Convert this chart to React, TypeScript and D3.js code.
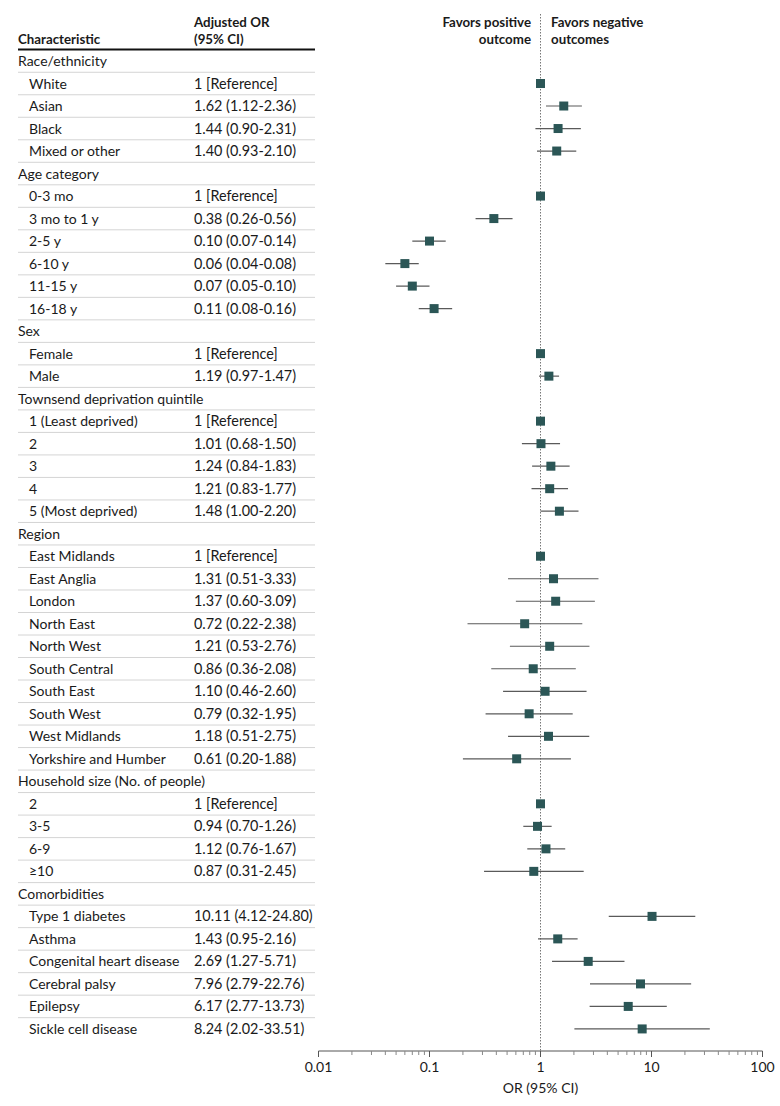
import React from "react";
import * as d3 from "d3";

type Row = { label: string; group: boolean; or?: number; lo?: number; hi?: number; text?: string };

const categories: string[] = [
  "Race/ethnicity", "Age category", "Sex", "Townsend deprivation quintile", "Region",
  "Household size (No. of people)", "Comorbidities",
];

const itemLabels: string[][] = [
  ["White", "Asian", "Black", "Mixed or other"],
  ["0-3 mo", "3 mo to 1 y", "2-5 y", "6-10 y", "11-15 y", "16-18 y"],
  ["Female", "Male"],
  ["1 (Least deprived)", "2", "3", "4", "5 (Most deprived)"],
  ["East Midlands", "East Anglia", "London", "North East", "North West", "South Central", "South East", "South West", "West Midlands", "Yorkshire and Humber"],
  ["2", "3-5", "6-9", "≥10"],
  ["Type 1 diabetes", "Asthma", "Congenital heart disease", "Cerebral palsy", "Epilepsy", "Sickle cell disease"],
];

const orValues: number[][] = [
  [1, 1.62, 1.44, 1.40],
  [1, 0.38, 0.10, 0.06, 0.07, 0.11],
  [1, 1.19],
  [1, 1.01, 1.24, 1.21, 1.48],
  [1, 1.31, 1.37, 0.72, 1.21, 0.86, 1.10, 0.79, 1.18, 0.61],
  [1, 0.94, 1.12, 0.87],
  [10.11, 1.43, 2.69, 7.96, 6.17, 8.24],
];

const ciLow: (number | null)[][] = [
  [null, 1.12, 0.90, 0.93],
  [null, 0.26, 0.07, 0.04, 0.05, 0.08],
  [null, 0.97],
  [null, 0.68, 0.84, 0.83, 1.00],
  [null, 0.51, 0.60, 0.22, 0.53, 0.36, 0.46, 0.32, 0.51, 0.20],
  [null, 0.70, 0.76, 0.31],
  [4.12, 0.95, 1.27, 2.79, 2.77, 2.02],
];

const ciHigh: (number | null)[][] = [
  [null, 2.36, 2.31, 2.10],
  [null, 0.56, 0.14, 0.08, 0.10, 0.16],
  [null, 1.47],
  [null, 1.50, 1.83, 1.77, 2.20],
  [null, 3.33, 3.09, 2.38, 2.76, 2.08, 2.60, 1.95, 2.75, 1.88],
  [null, 1.26, 1.67, 2.45],
  [24.80, 2.16, 5.71, 22.76, 13.73, 33.51],
];

const axisTicks: number[] = [0.01, 0.1, 1, 10, 100];
const axisTickLabels: string[] = ["0.01", "0.1", "1", "10", "100"];

const FONT = "Lato, 'Open Sans', sans-serif";
const W = 780;
const H = 1106;
const ROW0 = 61;
const ROWH = 22.51;
const MARK = "#2b5656";

function fmt(v: number) {
  return v.toFixed(2);
}

export default function App() {
  const rows: Row[] = [];
  categories.forEach((c, ci) => {
    rows.push({ label: c, group: true });
    itemLabels[ci].forEach((l, i) => {
      const or = orValues[ci][i];
      const lo = ciLow[ci][i];
      const hi = ciHigh[ci][i];
      const text = lo == null ? "1 [Reference]" : `${fmt(or)} (${fmt(lo)}-${fmt(hi as number)})`;
      rows.push({ label: l, group: false, or, lo: lo ?? undefined, hi: hi ?? undefined, text });
    });
  });

  const x = d3.scaleLog().domain([0.01, 100]).range([318.5, 762.5]);
  const y = (i: number) => ROW0 + i * ROWH;
  const axisY = 1051;
  const minor: number[] = [];
  for (let d = 0.01; d < 100; d *= 10) {
    for (let k = 2; k <= 9; k++) minor.push(+(d * k).toPrecision(3));
  }

  return (
    <svg width={W} height={H} style={{ position: "absolute", left: 0, top: 0, background: "#fff" }}>
      <g fontFamily={FONT} fill="#1a1a1a" fontSize={14}>
        {/* header */}
        <g fontSize={13.3} fontWeight="bold">
          <text x={18} y={44}>Characteristic</text>
          <text x={194} y={27}>Adjusted OR</text>
          <text x={194} y={44}>(95% CI)</text>
          <text x={531} y={27} textAnchor="end">Favors positive</text>
          <text x={531} y={44} textAnchor="end">outcome</text>
          <text x={551} y={27}>Favors negative</text>
          <text x={551} y={44}>outcomes</text>
        </g>
        <line x1={18} x2={315} y1={49.5} y2={49.5} stroke="#111" strokeWidth={1.8} />

        {/* row separators */}
        {rows.slice(0, -1).map((_, i) => (
          <line key={"s" + i} x1={18} x2={315} y1={y(i) + ROWH / 2} y2={y(i) + ROWH / 2} stroke="#d4d4d4" strokeWidth={1} />
        ))}

        {/* reference line */}
        <line x1={x(1)} x2={x(1)} y1={14} y2={axisY} stroke="#777" strokeWidth={1} strokeDasharray="1.5,1.5" />

        {rows.map((r, i) => (
          <g key={"r" + i}>
            <text x={r.group ? 18 : 29} y={y(i) + 5}>{r.label}</text>
            {r.text && <text x={194} y={y(i) + 5} fontSize={14.4}>{r.text}</text>}
            {r.lo != null && (
              <line x1={x(r.lo)} x2={x(r.hi as number)} y1={y(i)} y2={y(i)} stroke="#5a5a5a" strokeWidth={1.2} />
            )}
            {r.or != null && (
              <rect x={x(r.or) - 4.5} y={y(i) - 4.5} width={9} height={9} fill={MARK} />
            )}
          </g>
        ))}

        {/* axis */}
        <line x1={x(0.01)} x2={x(100)} y1={axisY} y2={axisY} stroke="#555" strokeWidth={1} />
        {axisTicks.map((t) => (
          <line key={"M" + t} x1={x(t)} x2={x(t)} y1={axisY} y2={axisY + 6} stroke="#555" strokeWidth={1} />
        ))}
        {minor.map((t) => (
          <line key={"m" + t} x1={x(t)} x2={x(t)} y1={axisY} y2={axisY + 4} stroke="#888" strokeWidth={1} />
        ))}
        {axisTicks.map((t, i) => (
          <text key={"l" + t} x={x(t)} y={axisY + 21} textAnchor="middle">{axisTickLabels[i]}</text>
        ))}
        <text x={x(1)} y={axisY + 42} textAnchor="middle">OR (95% CI)</text>
      </g>
    </svg>
  );
}
